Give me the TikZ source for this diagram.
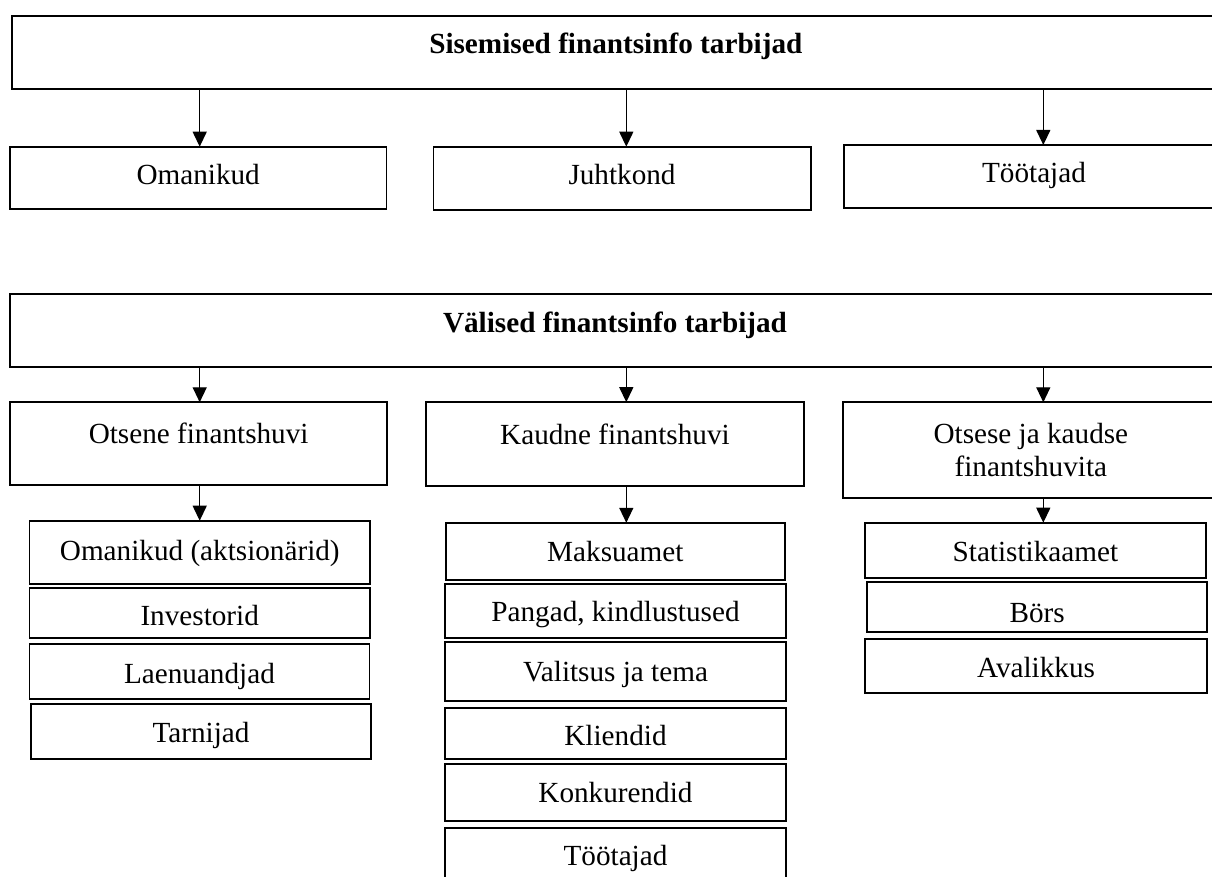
\documentclass[tikz,border=0pt]{standalone}
\usepackage{fontspec}
\setmainfont{Liberation Serif}
\usetikzlibrary{arrows.meta}
\tikzset{
  box/.style={draw, line width=1.8pt, inner sep=0pt, outer sep=0pt, font=\fontsize{29.2}{33}\selectfont},
  mid/.style={text height=#1, text depth=4.1pt},
  mid/.default=23.4pt,
  hdr/.style={text height=20pt, text depth=16.8pt, font=\fontsize{29.2}{33}\selectfont\bfseries},
  upper/.style={text height=20pt, text depth=20.2pt},
  twoline/.style={align=center},
  arr/.style={line width=1.3pt, -{Triangle[length=15pt,width=14pt]}},
}
\newcommand\mybox[7]{\node[box,#6,minimum width={#4-#2},minimum height={#5-#3}] (#1) at ({(#2+#4)/2},{(#3+#5)/2}) {#7};}
\begin{document}
\begin{tikzpicture}[x=1pt,y=-1pt]
\useasboundingbox (0,0) rectangle (1212,877);
\fill[white] (0,0) rectangle (1212,877);
% internal users
\mybox{S}{11.7}{15.7}{1220}{89}{hdr}{Sisemised finantsinfo tarbijad}
\mybox{om1}{10}{146.7}{386.4}{209}{mid=18.2pt}{Omanikud}
\mybox{juht}{433.5}{146.7}{810.6}{210}{mid=17.4pt}{Juhtkond}
\mybox{toot1}{844}{145}{1224}{208}{mid=16.4pt}{Töötajad}
% external users
\mybox{V}{10}{294}{1220}{367.3}{hdr}{Välised finantsinfo tarbijad}
\mybox{ots}{10}{402.3}{387.3}{485.3}{upper}{Otsene finantshuvi}
\mybox{kaud}{426.2}{402.2}{803.7}{486}{upper}{Kaudne finantshuvi}
\mybox{okf}{842.7}{402.3}{1219}{498.3}{twoline}{Otsese ja kaudse\\finantshuvita}
% left column
\mybox{l1}{29.4}{520.7}{370.2}{584}{mid=20.8pt}{Omanikud (aktsionärid)}
\mybox{l2}{29.4}{587.7}{370}{638.3}{mid=29.4pt}{Investorid}
\mybox{l3}{29.4}{644.3}{369.5}{699}{mid=27pt}{Laenuandjad}
\mybox{l4}{31}{704.3}{371}{759}{mid=25pt}{Tarnijad}
% middle column
\mybox{m1}{445.7}{522.8}{785}{580}{mid}{Maksuamet}
\mybox{m2}{445.3}{584.3}{785.7}{637.7}{mid=25.4pt}{Pangad, kindlustused}
\mybox{m3}{445.3}{642.3}{785.7}{700.7}{mid}{Valitsus ja tema}
\mybox{m4}{445.3}{707.7}{785.7}{759}{mid=27.4pt}{Kliendid}
\mybox{m5}{445.3}{764}{785.7}{821}{mid}{Konkurendid}
\mybox{m6}{445.3}{828.3}{785.7}{880}{mid=26.4pt}{Töötajad}
% right column
\mybox{r1}{865}{522.7}{1205.7}{578.3}{mid=26.4pt}{Statistikaamet}
\mybox{r2}{867}{582.3}{1207.3}{632.3}{mid=34.4pt}{Börs}
\mybox{r3}{865.3}{639}{1206.7}{693.3}{mid=26pt}{Avalikkus}
% arrow columns
\coordinate (a1) at (199.7,0);
\coordinate (a2) at (626.3,0);
\coordinate (a3) at (1043.3,0);
\draw[arr] (S.south -| a1) -- (om1.north -| a1);
\draw[arr] (S.south -| a2) -- (juht.north -| a2);
\draw[arr] (S.south -| a3) -- (toot1.north -| a3);
\draw[arr] (V.south -| a1) -- (ots.north -| a1);
\draw[arr] (V.south -| a2) -- (kaud.north -| a2);
\draw[arr] (V.south -| a3) -- (okf.north -| a3);
\draw[arr] (ots.south -| a1) -- (l1.north -| a1);
\draw[arr] (kaud.south -| a2) -- (m1.north -| a2);
\draw[arr] (okf.south -| a3) -- (r1.north -| a3);
\end{tikzpicture}
\end{document}
